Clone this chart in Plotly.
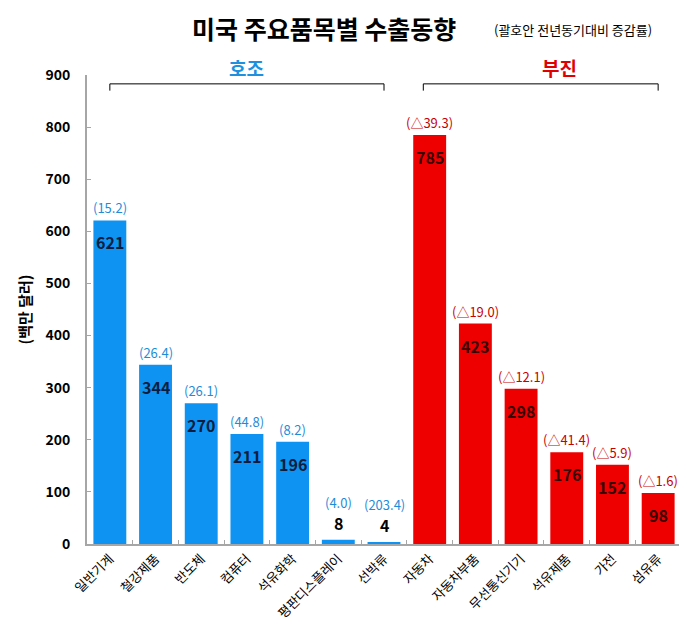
import plotly.graph_objects as go

categories = ["일반기계", "철강제품", "반도체", "컴퓨터", "석유화학", "평판디스플레이", "선박류",
              "자동차", "자동차부품", "무선통신기기", "석유제품", "가전", "섬유류"]
values = [621, 344, 270, 211, 196, 8, 4, 785, 423, 298, 176, 152, 98]
changes = ["(15.2)", "(26.4)", "(26.1)", "(44.8)", "(8.2)", "(4.0)", "(203.4)",
           "(△39.3)", "(△19.0)", "(△12.1)", "(△41.4)", "(△5.9)", "(△1.6)"]
groups = ["good"] * 7 + ["bad"] * 6
y_ticks = [0, 100, 200, 300, 400, 500, 600, 700, 800, 900]

FONT = "Noto Sans CJK KR, Malgun Gothic, sans-serif"
BLUE = "#0F93F2"
RED = "#EE0000"
BLUE_TXT = "#1E8CD8"
RED_TXT = "#C80000"

bar_colors = [BLUE if g == "good" else RED for g in groups]

fig = go.Figure()
fig.add_trace(go.Bar(
    x=categories, y=values, marker=dict(color=bar_colors, line=dict(width=0)),
    hoverinfo="skip", showlegend=False, cliponaxis=False,
))

annotations = []
for i, (c, v, ch, g) in enumerate(zip(categories, values, changes, groups)):
    small = v < 40
    val_color = "#000000" if small else ("#0B1E40" if g == "good" else "#3A0000")
    ch_color = BLUE_TXT if g == "good" else RED_TXT
    if small:
        annotations.append(dict(x=c, y=v, xref="x", yref="y", text=f"<b>{v}</b>",
                                showarrow=False, yanchor="middle", yshift=17,
                                font=dict(family=FONT, size=16, color=val_color)))
        annotations.append(dict(x=c, y=v, xref="x", yref="y", text=ch,
                                showarrow=False, yanchor="middle", yshift=37,
                                font=dict(family=FONT, size=13, color=ch_color)))
    else:
        annotations.append(dict(x=c, y=v, xref="x", yref="y", text=f"<b>{v}</b>",
                                showarrow=False, yanchor="middle", yshift=-22,
                                font=dict(family=FONT, size=16, color=val_color)))
        annotations.append(dict(x=c, y=v, xref="x", yref="y", text=ch,
                                showarrow=False, yanchor="bottom", yshift=1,
                                font=dict(family=FONT, size=13, color=ch_color)))

# group labels
annotations.append(dict(x=3, y=1.017, xref="x", yref="paper", text="<b>호조</b>",
                        showarrow=False, yanchor="middle",
                        font=dict(family=FONT, size=19, color="#1E90E0")))
annotations.append(dict(x=9.85, y=1.017, xref="x", yref="paper", text="<b>부진</b>",
                        showarrow=False, yanchor="middle",
                        font=dict(family=FONT, size=19, color="#E00000")))

# title
annotations.append(dict(x=0.175, y=1.100, xref="paper", yref="paper",
                        text="<b>미국 주요품목별 수출동향</b>", showarrow=False,
                        xanchor="left", yanchor="middle", borderpad=0,
                        font=dict(family=FONT, size=25, color="#000000")))
annotations.append(dict(x=0.682, y=1.098, xref="paper", yref="paper",
                        text="(괄호안 전년동기대비 증감률)", showarrow=False,
                        xanchor="left", yanchor="middle",
                        font=dict(family=FONT, size=13, color="#000000")))
# y title
annotations.append(dict(x=-0.106, y=0.5, xref="paper", yref="paper",
                        text="<b>(백만 달러)</b>", showarrow=False, textangle=-90,
                        xanchor="center", yanchor="middle",
                        font=dict(family=FONT, size=15, color="#000000")))

shapes = []
for x0, x1 in [(0, 6), (6.86, 12)]:
    shapes.append(dict(type="line", xref="x", yref="y", x0=x0, x1=x1, y0=883, y1=883,
                       line=dict(color="#000000", width=1)))
    for xe in (x0, x1):
        shapes.append(dict(type="line", xref="x", yref="y", x0=xe, x1=xe, y0=883, y1=870,
                           line=dict(color="#000000", width=1)))

# The page body has an 8px default margin; size the figure so it sits in the window.
fig.update_layout(
    width=679, height=626,
    margin=dict(l=79, r=6, t=67, b=90, autoexpand=False),
    paper_bgcolor="white", plot_bgcolor="white",
    bargap=0.28,
    annotations=annotations, shapes=shapes,
    font=dict(family=FONT, color="#000000"),
)
fig.update_xaxes(
    tickangle=-45, tickfont=dict(family=FONT, size=13, color="#000000"),
    showline=True, linecolor="#A6A6A6", linewidth=2,
    ticks="inside", ticklen=4, tickcolor="#A6A6A6", tickson="boundaries",
    showgrid=False, zeroline=False, automargin=False,
)
fig.update_yaxes(
    range=[0, 900], tickvals=y_ticks,
    ticktext=[f"<b>{t}</b>" for t in y_ticks],
    tickfont=dict(family=FONT, size=14, color="#000000"),
    showline=True, linecolor="#A6A6A6", linewidth=2,
    ticks="inside", ticklen=4, tickcolor="#A6A6A6",
    showgrid=False, zeroline=False, ticklabelstandoff=12, automargin=False,
)

fig.write_html("out.html")
